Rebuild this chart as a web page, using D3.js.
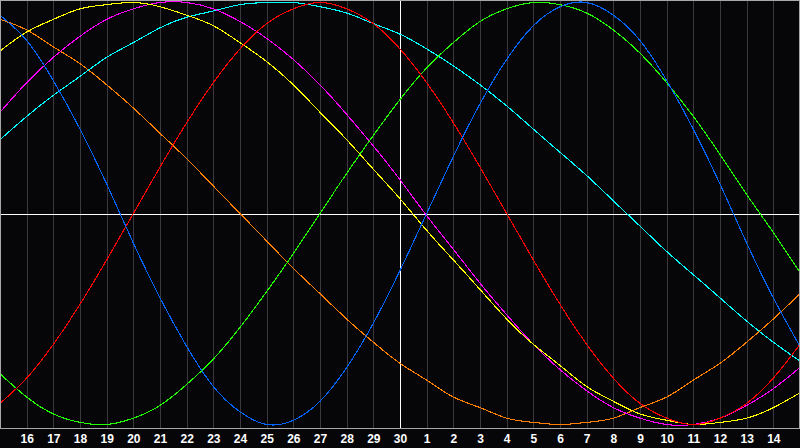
<!DOCTYPE html>
<html>
<head>
<meta charset="utf-8">
<script src="https://cdn.jsdelivr.net/npm/d3@7"></script>
<style>
  html, body { margin: 0; padding: 0; background: #060609; }
  svg { display: block; }
</style>
</head>
<body>
<div id="chart"></div>
<script>
// day labels under each grid line (15th at left edge, 15th at right edge)
var dayLabels = ["15", "16", "17", "18", "19", "20", "21", "22", "23", "24", "25", "26", "27", "28", "29", "30",
    "1", "2", "3", "4", "5", "6", "7", "8", "9", "10", "11", "12", "13", "14", "15"];

// values, one per day, in percent
var physical = [94, 82, 63, 40, 14, -14, -40, -63, -82, -94, -100, -98, -89, -73, -52, -27,
    0, 27, 52, 73, 89, 98, 100, 94, 82, 63, 40, 14, -14, -40, -63];
var emotional = [-90, -78, -62, -43, -22, 0, 22, 43, 62, 78, 90, 97, 100, 97, 90, 78,
    62, 43, 22, 0, -22, -43, -62, -78, -90, -97, -100, -97, -90, -78, -62];
var intellectual = [-76, -87, -95, -99, -100, -97, -91, -81, -69, -54, -37, -19, 0, 19, 37, 54,
    69, 81, 91, 97, 100, 99, 95, 87, 76, 62, 46, 28, 9, -9, -28];
var intuitive = [48, 62, 74, 84, 92, 97, 100, 100, 97, 91, 83, 73, 61, 47, 32, 16,
    -1, -17, -33, -48, -62, -74, -84, -92, -97, -100, -100, -97, -91, -83, -73];
var aesthetic = [77, 86, 92, 97, 99, 100, 98, 94, 89, 81, 72, 61, 48, 35, 21, 7,
    -8, -22, -36, -50, -62, -72, -82, -89, -95, -98, -100, -99, -97, -92, -85];
var awareness = [92, 87, 79, 71, 61, 50, 38, 26, 13, 0, -13, -26, -38, -50, -61, -71,
    -79, -87, -92, -97, -99, -100, -99, -97, -92, -87, -79, -71, -61, -50, -38];
var spiritual = [35, 46, 56, 65, 74, 81, 88, 93, 96, 99, 100, 100, 98, 95, 90, 85,
    78, 70, 61, 51, 40, 29, 18, 6, -6, -18, -29, -40, -51, -61, -70];

var seriesNames = ["awareness", "spiritual", "intuitive", "aesthetic", "intellectual", "emotional", "physical"];
var seriesValues = [awareness, spiritual, intuitive, aesthetic, intellectual, emotional, physical];
var seriesColors = ["#ff8000", "#00ffff", "#ff00ff", "#ffff00", "#22ff00", "#ff0000", "#0066ff"];

var todayIndex = 15;

function onLoad() {

    var width = 800,
        height = 448,
        plotBottom = 428;

    // //////////////////////////////////////////////////////////
    // ///////// Create scale and line functions ////////////////
    // //////////////////////////////////////////////////////////

    var x = d3.scaleLinear()
        .domain([0, dayLabels.length - 1])
        .range([0, width]);

    var y = d3.scaleLinear()
        .domain([-100, 100])
        .range([424.5, 2.5]);

    var line = d3.line()
        .x(function(d, i) { return x(i); })
        .y(function(d) { return y(d); })
        .curve(d3.curveNatural);

    // //////////////////////////////////////////////////////////
    // //////////////////// Create SVG //////////////////////////
    // //////////////////////////////////////////////////////////

    var svg = d3.select("#chart").append("svg")
        .attr("width", width)
        .attr("height", height);

    svg.append("rect")
        .attr("width", width)
        .attr("height", height)
        .attr("fill", "#060609");

    // day grid lines
    svg.selectAll("line.grid")
        .data(d3.range(1, dayLabels.length - 1).filter(function(i) { return i != todayIndex; }))
        .enter().append("line")
        .attr("class", "grid")
        .attr("x1", function(i) { return Math.round(x(i)) + 0.5; })
        .attr("x2", function(i) { return Math.round(x(i)) + 0.5; })
        .attr("y1", 0)
        .attr("y2", plotBottom)
        .style("stroke", "#3a3a3e")
        .style("stroke-width", 1)
        .style("shape-rendering", "crispEdges");

    // zero line and today line
    svg.append("line")
        .attr("x1", 0).attr("x2", width)
        .attr("y1", Math.round(y(0)) + 0.5).attr("y2", Math.round(y(0)) + 0.5)
        .style("stroke", "#ffffff")
        .style("shape-rendering", "crispEdges");

    svg.append("line")
        .attr("x1", Math.round(x(todayIndex)) + 0.5).attr("x2", Math.round(x(todayIndex)) + 0.5)
        .attr("y1", 0).attr("y2", plotBottom)
        .style("stroke", "#ffffff")
        .style("shape-rendering", "crispEdges");

    // //////////////////////////////////////////////////////////
    // //////////////////// Draw curves /////////////////////////
    // //////////////////////////////////////////////////////////

    svg.selectAll("path.cycle")
        .data(seriesValues)
        .enter().append("path")
        .attr("class", function(d, i) { return "cycle " + seriesNames[i]; })
        .attr("d", line)
        .style("fill", "none")
        .style("stroke", function(d, i) { return seriesColors[i]; })
        .style("stroke-width", 1.1)
        .style("shape-rendering", "crispEdges");

    // frame
    svg.append("rect")
        .attr("x", 0.5)
        .attr("y", 0.5)
        .attr("width", width - 1)
        .attr("height", plotBottom - 0.5)
        .style("fill", "none")
        .style("stroke", "#a8a8a8")
        .style("shape-rendering", "crispEdges");

    // //////////////////////////////////////////////////////////
    // //////////////////// Day labels //////////////////////////
    // //////////////////////////////////////////////////////////

    svg.selectAll("text.day")
        .data(dayLabels.slice(1, dayLabels.length - 1))
        .enter().append("text")
        .attr("class", "day")
        .attr("x", function(d, i) { return x(i + 1) + 0.5; })
        .attr("y", 443)
        .attr("text-anchor", "middle")
        .style("font-family", "'Liberation Sans', Arial, sans-serif")
        .style("font-weight", "bold")
        .style("font-size", "12px")
        .style("fill", "#ffffff")
        .text(function(d) { return d; });
}

onLoad();
</script>
</body>
</html>
